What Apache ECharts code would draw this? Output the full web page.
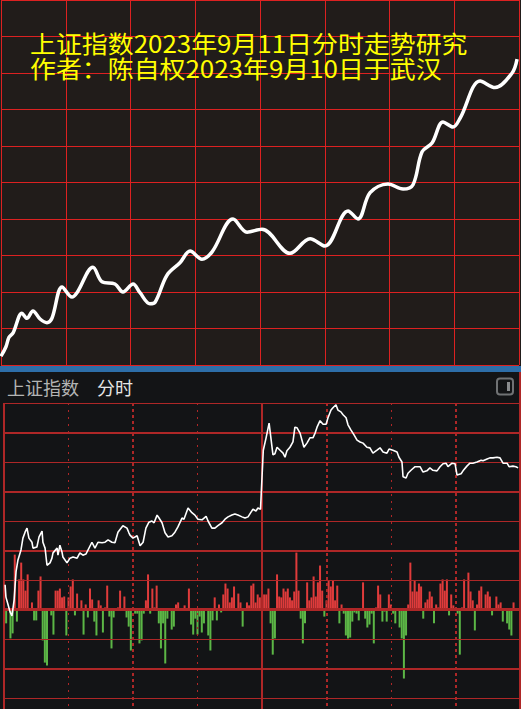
<!DOCTYPE html>
<html><head><meta charset="utf-8">
<script src="https://cdn.jsdelivr.net/npm/echarts@6/dist/echarts.min.js"></script>
<style>html,body{margin:0;padding:0;background:#131416;}#c{width:521px;height:709px;}</style>
</head><body><div id="c"></div>
<script>
// ---- data ----
const titleLines = ['上证指数2023年9月11日分时走势研究', '作者：陈自权2023年9月10日于武汉'];
const headerName = '上证指数';
const headerMode = '分时';
// top (forecast) curve: [minute, index]
const topLine = [[0,3101.2],[2.3,3102.5],[3.7,3103.8],[5.6,3104.4],[9.7,3107.1],[12,3106.4],[14.8,3107.4],[18.1,3106.3],[21.3,3105.8],[23.6,3106.4],[28.3,3110.7],[32.9,3109.3],[35.2,3109.9],[42.6,3113.4],[46.8,3111.4],[52.8,3111.1],[56.5,3110.0],[61.2,3111.1],[64.4,3109.9],[69,3108.4],[71.4,3108.6],[76.9,3112.3],[82.9,3114.0],[87.6,3115.6],[93.1,3114.5],[97.8,3115.5],[107.5,3120.0],[114,3118.2],[120.9,3118.6],[133.9,3115.3],[143.2,3117.3],[150.1,3116.3],[160.8,3121.1],[165.4,3120.0],[171,3123.6],[179.3,3124.8],[186.3,3124.1],[190.9,3124.7],[195.1,3129.2],[199.7,3130.4],[204.8,3133.3],[209.4,3132.6],[212.7,3133.8],[222,3138.9],[228.9,3138.0],[236.8,3140.0],[239.1,3141.9]];
// intraday price: [minute, index]
const price = [[0.5,3119.2],[0.9,3117.1],[1.9,3115.8],[2.8,3114.6],[3.7,3113.9],[4.7,3116.6],[5.6,3121.4],[6.5,3123.4],[7.9,3125.1],[8.8,3127.1],[9.8,3128.1],[10.7,3128.8],[11.6,3127.1],[13,3126.4],[13.5,3125.4],[15.3,3125.6],[16.3,3127.3],[17.7,3128.3],[18.1,3126.4],[19.1,3125.4],[20,3122.5],[21.4,3122.9],[22.3,3123.7],[22.8,3124.6],[24.7,3125.4],[25.1,3124.2],[26,3125.9],[27,3124.7],[27.4,3123.9],[29.3,3122.9],[30.7,3123.7],[32.1,3123.9],[34,3123.7],[35.3,3124.6],[36.7,3124.2],[38.1,3124.4],[40.9,3126.4],[42.3,3125.4],[43.7,3126.4],[45.6,3126.3],[47,3126.4],[48.4,3126.8],[50.2,3126.4],[51.6,3126.3],[53,3128.1],[55.3,3129.2],[57.2,3128.8],[58.1,3128.0],[58.6,3127.6],[60,3127.1],[61.9,3127.5],[63.3,3125.8],[64.7,3126.4],[66,3128.8],[67.4,3129.8],[68.8,3130.0],[69.8,3129.7],[71.2,3131.0],[72.1,3130.5],[73.5,3129.7],[74.9,3128.0],[76.3,3127.3],[78.1,3127.5],[79.5,3128.1],[80.9,3129.0],[82.8,3130.5],[83.7,3130.3],[85.6,3132.2],[87.4,3131.4],[88.8,3131.0],[90.2,3130.3],[92.1,3130.2],[94,3130.8],[94.9,3130.0],[96.7,3128.8],[98.1,3128.8],[99.5,3129.2],[101.4,3129.7],[102.8,3130.3],[104.2,3130.7],[106,3131.0],[107.4,3131.2],[108.8,3131.0],[110.7,3130.7],[112.1,3130.5],[113.5,3130.7],[114.9,3131.5],[115.8,3132.0],[117.2,3131.7],[118.1,3132.2],[119.3,3132.0],[120.6,3142.0],[121.9,3144.1],[123.3,3146.6],[125.1,3141.2],[126,3141.4],[127,3142.5],[128.4,3142.0],[129.8,3141.5],[130.7,3140.8],[131.6,3141.9],[133,3142.5],[134.4,3143.4],[135.3,3145.9],[136.3,3145.8],[137.7,3144.9],[138.6,3143.7],[139.5,3142.5],[140.9,3143.2],[142.3,3144.1],[143.7,3144.1],[144.7,3144.9],[145.6,3145.9],[147,3147.0],[148.4,3146.4],[149.8,3146.4],[150.7,3147.5],[152.1,3148.8],[153,3149.2],[154.4,3149.7],[155.3,3148.8],[156.7,3148.5],[157.7,3148.0],[159.1,3147.5],[160,3146.3],[161.4,3145.4],[162.8,3144.6],[164.2,3143.7],[165.6,3143.4],[167,3143.2],[168.8,3142.5],[170.2,3142.4],[171.6,3141.5],[173.5,3142.0],[174.9,3142.4],[176.3,3141.7],[178.1,3141.5],[179.1,3142.2],[180.9,3142.0],[182.8,3141.7],[183.7,3140.8],[185.1,3140.0],[185.6,3137.5],[187,3137.3],[187.9,3138.1],[189.3,3138.6],[191.2,3139.2],[193.5,3139.2],[194.9,3138.3],[196.7,3138.5],[198.1,3139.0],[199.5,3138.6],[201.4,3138.5],[202.8,3139.2],[204.2,3139.7],[205.6,3139.8],[206.5,3139.2],[208.4,3139.8],[209.8,3139.7],[210.7,3137.8],[212.6,3138.0],[213.5,3138.5],[215.3,3139.3],[216.7,3139.8],[218.1,3139.8],[220,3140.0],[221.9,3140.3],[222.8,3140.2],[224.7,3140.5],[226,3140.7],[227.4,3140.7],[229.3,3140.8],[230.7,3140.7],[232.1,3139.8],[234,3139.8],[234.9,3139.2],[236.7,3139.3],[238.1,3139.2],[239.1,3139.0]];
// buy/sell volume difference: [minute, value] (positive red, negative green)
const volume = [[1,-47],[3,-98],[4,-81],[5,186],[6,-41],[7,102],[8,159],[9,102],[10,64],[11,119],[12,-3],[13,24],[14,-37],[15,-37],[16,64],[17,112],[18,-105],[19,-180],[20,-190],[22,-20],[23,-85],[24,64],[25,64],[26,71],[27,41],[28,44],[29,-88],[30,41],[31,78],[32,102],[33,-20],[34,54],[35,-3],[36,31],[37,-85],[38,17],[39,-27],[40,71],[41,34],[42,-41],[43,-88],[44,31],[45,14],[46,-78],[47,7],[48,81],[49,-24],[50,-132],[51,-27],[52,-3],[53,7],[54,64],[56,44],[57,-27],[58,-58],[59,-139],[60,7],[61,-14],[62,-14],[63,-115],[64,-105],[65,-14],[66,31],[67,119],[68,-14],[69,71],[70,7],[71,81],[72,-47],[73,-132],[74,-47],[75,-183],[76,-31],[78,-68],[79,-58],[80,17],[81,24],[82,-3],[83,-3],[84,14],[86,71],[87,-51],[88,-85],[89,-31],[90,-85],[91,-24],[92,-78],[93,-47],[95,-88],[96,-139],[97,-37],[98,41],[99,-37],[100,17],[101,-10],[102,51],[103,88],[104,71],[105,24],[106,41],[107,78],[109,54],[110,24],[111,-58],[112,-3],[113,24],[114,14],[115,81],[116,88],[117,24],[118,51],[119,41],[120,-37],[121,51],[122,51],[123,71],[124,-47],[125,-153],[126,-98],[127,119],[128,44],[129,41],[130,71],[131,61],[132,71],[133,41],[134,31],[135,61],[136,193],[137,64],[138,-31],[139,-115],[140,-47],[141,92],[142,31],[143,41],[144,112],[145,44],[146,92],[147,149],[148,64],[149,-24],[150,31],[151,98],[152,78],[153,98],[154,31],[155,81],[156,-47],[157,17],[158,-14],[159,-88],[160,-98],[161,-95],[162,-41],[163,-10],[164,-14],[165,-37],[167,92],[168,-31],[169,-61],[170,-51],[171,-14],[172,-115],[173,7],[174,81],[175,51],[176,-41],[177,-7],[178,-41],[179,51],[180,17],[181,-14],[182,-47],[183,-3],[184,-61],[185,-98],[186,-234],[187,-88],[188,17],[189,159],[190,61],[191,98],[192,61],[193,88],[194,78],[195,-31],[196,24],[197,34],[198,61],[199,44],[200,-47],[201,17],[202,7],[203,88],[204,102],[205,64],[206,102],[207,-20],[208,51],[209,14],[211,-14],[212,-153],[213,7],[214,102],[216,125],[217,61],[218,31],[219,-71],[220,17],[221,64],[222,78],[224,51],[225,61],[226,44],[227,-20],[229,44],[230,17],[231,24],[232,-41],[234,-47],[235,-68],[236,-88],[237,24],[240,-47]];

// ---- styling ----
const TOPRED = '#dd2121';
const R = '#ae2727';
const T = 'rgba(0,0,0,0)';
const hidden = {axisLine:{show:false}, axisTick:{show:false}, axisLabel:{show:false}};
function split(color, width, type, z) {
  return Object.assign({}, hidden, {splitLine:{show:true, lineStyle:{color:color, width:width, type:type||'solid'}}, z:z||0});
}
const noSplit = Object.assign({}, hidden, {splitLine:{show:false}});
const bottomRect = {left:4, top:403, width:516, height:295, show:false};
const vRect = {left:4, top:403, width:516, height:306, show:false};
const titleFont = '24px "Noto Sans CJK SC"';

const chart = echarts.init(document.getElementById('c'), null, {renderer:'svg', width:521, height:709});
chart.setOption({
  animation:false,
  backgroundColor:'#131416',
  grid:[
    {left:1, top:0, width:518, height:365, show:false},
    bottomRect, bottomRect, bottomRect,
    vRect, vRect, vRect,
    {left:4, top:372, width:516, height:337, show:false}
  ],
  xAxis:[
    Object.assign({gridIndex:0, type:'value', min:0, max:240, interval:30}, split(TOPRED,1)),
    Object.assign({gridIndex:1, type:'value', min:0, max:240, interval:30}, noSplit),
    Object.assign({gridIndex:2, type:'value', min:0, max:240, interval:30}, noSplit),
    Object.assign({gridIndex:3, type:'value', min:0, max:240, interval:30}, noSplit),
    Object.assign({gridIndex:4, type:'value', min:0, max:240, interval:30}, split([R,T,T,T,R,T,T,T,T],2,'solid',3)),
    Object.assign({gridIndex:5, type:'value', min:0, max:240, interval:30}, split([T,R,T,R,T,T,R,T,T],1,[2,5],3)),
    Object.assign({gridIndex:6, type:'value', min:0, max:240, interval:30}, split([T,T,R,T,T,R,T,R,T],2,[3,3],3)),
    Object.assign({gridIndex:7, type:'value', min:0, max:240, interval:30}, split([T,T,T,T,T,T,T,T,R],2,'solid',3))
  ],
  yAxis:[
    Object.assign({gridIndex:0, type:'value', min:3100, max:3150, interval:5}, split(TOPRED,1)),
    Object.assign({gridIndex:1, type:'value', min:3100, max:3150, interval:5}, split(R,1,'solid',3)),
    Object.assign({gridIndex:1, type:'value', min:-300, max:700, interval:100}, noSplit),
    Object.assign({gridIndex:2, type:'value', min:0, max:10, interval:1}, split([T,R,T,T,T,R,T,R,T,R,T],2,'solid',3)),
    Object.assign({gridIndex:3, type:'value', min:0, max:10, interval:1}, split([T,T,T,R,T,T,T,T,T,T,T],3,'solid',3)),
    Object.assign({gridIndex:4, type:'value', min:0, max:1}, noSplit),
    Object.assign({gridIndex:5, type:'value', min:0, max:1}, noSplit),
    Object.assign({gridIndex:6, type:'value', min:0, max:1}, noSplit),
    Object.assign({gridIndex:7, type:'value', min:0, max:1}, noSplit)
  ],
  graphic:[
    {type:'rect', z:-10, silent:true, shape:{x:0, y:0, width:521, height:366}, style:{fill:'#211c1a'}},
    {type:'rect', z:-10, silent:true, shape:{x:0, y:366, width:521, height:6}, style:{fill:'#2d6ea9'}},
    {type:'text', z:10, x:30, y:42, scaleX:1.08, style:{text:titleLines[0], fill:'#ffff00', font:titleFont, verticalAlign:'middle'}},
    {type:'text', z:10, x:30, y:67.5, scaleX:1.08, style:{text:titleLines[1], fill:'#ffff00', font:titleFont, verticalAlign:'middle'}},
    {type:'text', z:10, x:7, y:387, style:{text:headerName, fill:'#b4b4b4', font:'18px "Noto Sans CJK SC"', verticalAlign:'middle'}},
    {type:'text', z:10, x:97, y:387, style:{text:headerMode, fill:'#e6e6e6', font:'18px "Noto Sans CJK SC"', verticalAlign:'middle'}},
    {type:'rect', z:10, shape:{x:497, y:378.5, width:16, height:16, r:3}, style:{fill:'none', stroke:'#707274', lineWidth:2}},
    {type:'rect', z:10, shape:{x:507, y:382, width:3, height:9}, style:{fill:'#8a8c8e'}}
  ],
  series:[
    {type:'line', xAxisIndex:0, yAxisIndex:0, data:topLine, smooth:0.35, showSymbol:false, lineStyle:{color:'#ffffff', width:3.5}, z:5},
    {type:'bar', xAxisIndex:1, yAxisIndex:2, data:volume, barWidth:2, z:2,
      itemStyle:{color:function(p){return p.value[1] >= 0 ? '#e03b3b' : '#5cb646';}}},
    {type:'line', xAxisIndex:1, yAxisIndex:1, data:price, showSymbol:false, lineStyle:{color:'#ffffff', width:1.6}, z:6}
  ]
});
</script>
</body></html>
